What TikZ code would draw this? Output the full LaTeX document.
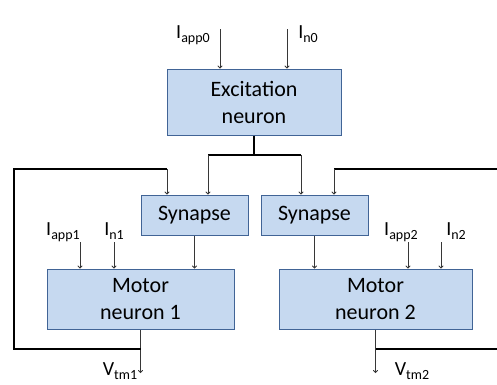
\documentclass[tikz,border=0pt]{standalone}
\usepackage{fontspec}
\setmainfont{Carlito}
\usepackage{xcolor}
\usetikzlibrary{positioning,calc,arrows.meta}
\definecolor{boxfill}{RGB}{198,217,240}
\definecolor{boxline}{RGB}{65,100,150}
\definecolor{wire}{RGB}{55,55,55}
\newcommand{\lsub}[1]{\raisebox{-4pt}{\fontsize{14}{14}\selectfont #1}}
\tikzset{
    block/.style={draw=boxline, fill=boxfill, line width=1pt, align=center, inner sep=0pt, font=\fontsize{22}{27}\selectfont},
    arr/.style={-{To[length=3pt,width=5pt]}, draw=wire, line width=0.9pt},
    bus/.style={line width=2pt},
    lbl/.style={inner sep=0pt, anchor=base, font=\fontsize{20}{24}\selectfont}
}

\begin{document}
\begin{tikzpicture}[x=1pt,y=-1pt]
    \useasboundingbox (0,0) rectangle (497,384);

    \node[block, minimum width=174pt, minimum height=66pt] (exc) at (254,102) {Excitation\\neuron};
    \node[block, minimum width=107pt, minimum height=40pt] (syn1) at (194.5,215) {Synapse};
    \node[block, minimum width=107pt, minimum height=40pt] (syn2) at (314.5,215) {Synapse};
    \node[block, minimum width=187pt, minimum height=60pt] (mot1) at (140.5,299) {Motor\\neuron 1};
    \node[block, minimum width=193pt, minimum height=60pt] (mot2) at (375.5,299) {Motor\\neuron 2};

    \node[lbl] (iapp0) at (193,38) {I\lsub{app0}};
    \node[lbl] (in0) at (308,38) {I\lsub{n0}};
    \node[lbl] (iapp1) at (63,235) {I\lsub{app1}};
    \node[lbl] (in1) at (114,235) {I\lsub{n1}};
    \node[lbl] (iapp2) at (401,235) {I\lsub{app2}};
    \node[lbl] (in2) at (456,235) {I\lsub{n2}};
    \node[lbl] (vtm1) at (120,375) {V\lsub{tm1}};
    \node[lbl] (vtm2) at (412,375) {V\lsub{tm2}};

    % current inputs
    \foreach \name/\x/\y/\target in {a0/220/29/exc, n0/287/29/exc, a1/80/242/mot1, n1/114/242/mot1, a2/408/242/mot2, n2/441/242/mot2} {
        \coordinate (\name) at (\x,\y);
        \draw[arr] (\name) -- (\name |- \target.north);
    }

    % excitation to both synapses
    \coordinate (split) at (254,155);
    \coordinate (j1) at (208,155);
    \coordinate (j2) at (301,155);
    \draw[bus] (exc.south) -- (split);
    \draw[bus] (j1) -- (j2);
    \draw[arr] (j1) -- (j1 |- syn1.north);
    \draw[arr] (j2) -- (j2 |- syn2.north);

    \draw[arr] (syn1.south) -- (syn1.south |- mot1.north);
    \draw[arr] (syn2.south) -- (syn2.south |- mot2.north);

    % outputs
    \coordinate (out1) at (140.5,373);
    \coordinate (out2) at (375.5,373);
    \draw[arr] (mot1.south) -- (out1);
    \draw[arr] (mot2.south) -- (out2);

    % cross feedback
    \coordinate (fb1) at (140.5,349);
    \coordinate (fb1a) at (14,349);
    \coordinate (fb1b) at (14,169);
    \coordinate (fb1c) at (167,169);
    \draw[bus] (fb1) -- (fb1a) -- (fb1b) -- (fb1c);
    \draw[arr] (fb1c) -- (fb1c |- syn1.north);

    \coordinate (fb2) at (375.5,349);
    \coordinate (fb2a) at (497,349);
    \coordinate (fb2b) at (497,169);
    \coordinate (fb2c) at (334,169);
    \draw[bus] (fb2) -- (fb2a);
    \draw[bus] (fb2b) -- (fb2c);
    \draw[arr] (fb2c) -- (fb2c |- syn2.north);
\end{tikzpicture}
\end{document}
